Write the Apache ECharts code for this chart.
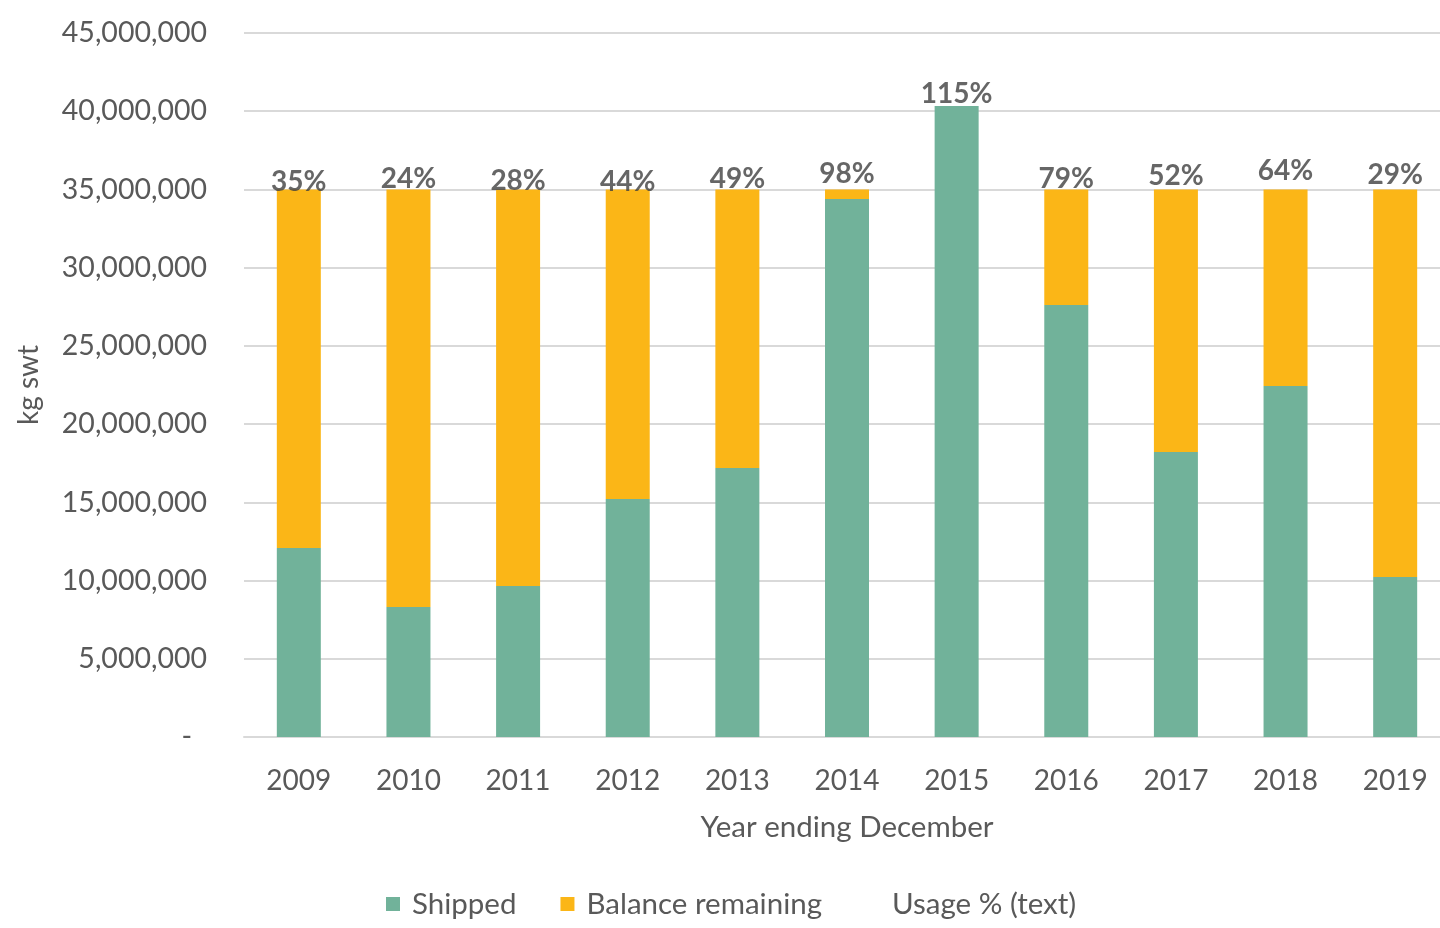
<!DOCTYPE html>
<html>
<head>
<meta charset="utf-8">
<script src="https://cdn.jsdelivr.net/npm/echarts@6/dist/echarts.min.js"></script>
<style>
html,body{margin:0;padding:0;background:#fff;overflow:hidden;}
#chart{width:1452px;height:928px;}
</style>
</head>
<body>
<div id="chart"></div>
<script>
const years = ['2009','2010','2011','2012','2013','2014','2015','2016','2017','2018','2019'];
const shipped = [12080000, 8310000, 9650000, 15210000, 17200000, 34390000, 40330000, 27610000, 18220000, 22440000, 10230000];
const balance = [22920000, 26690000, 25350000, 19790000, 17800000, 610000, -100000, 7390000, 16780000, 12560000, 24770000];
const usageLabels = ['35%','24%','28%','44%','49%','98%','115%','79%','52%','64%','29%'];
const usageY = [34790000, 34970000, 34840000, 34790000, 35030000, 35350000, 40400000, 34970000, 35160000, 35480000, 35280000];
const yTicks = { min: 0, max: 45000000, interval: 5000000 };

const FONT = 'Lato, "Open Sans", sans-serif';
const chart = echarts.init(document.getElementById('chart'));
chart.setOption({
  animation: false,
  textStyle: { fontFamily: FONT },
  grid: { left: 244, top: 33, width: 1206, height: 704, containLabel: false },
  legend: {
    left: 386, top: 889, padding: 0,
    itemWidth: 14, itemHeight: 14, itemGap: 44,
    textStyle: { fontFamily: FONT, fontSize: 29.5, color: '#595959', padding: [0, 0, 0, 7] },
    data: [
      { name: 'Shipped', icon: 'rect' },
      { name: 'Balance remaining', icon: 'rect' },
      { name: 'Usage % (text)', icon: 'rect', itemStyle: { color: 'rgba(0,0,0,0)', opacity: 0 } }
    ]
  },
  xAxis: {
    type: 'category',
    data: years,
    name: 'Year ending December',
    nameLocation: 'middle',
    nameGap: 75,
    nameTextStyle: { fontFamily: FONT, fontSize: 29.5, color: '#595959' },
    axisLine: { lineStyle: { color: '#d9d9d9', width: 2 } },
    axisTick: { show: false },
    axisLabel: { fontFamily: FONT, fontSize: 28, color: '#595959', margin: 30 }
  },
  yAxis: {
    type: 'value',
    min: yTicks.min, max: yTicks.max, interval: yTicks.interval,
    name: 'kg swt',
    nameLocation: 'middle',
    nameGap: 201,
    nameTextStyle: { fontFamily: FONT, fontSize: 28, color: '#595959' },
    axisLine: { show: false },
    axisTick: { show: false },
    splitLine: { lineStyle: { color: '#d9d9d9', width: 2 } },
    axisLabel: {
      fontFamily: FONT, fontSize: 28.5, color: '#595959', margin: 37,
      formatter: v => v === 0 ? '{z|-}' : v.toLocaleString('en-US'),
      rich: { z: { fontFamily: FONT, fontSize: 28.5, color: '#595959', padding: [0, 15, 0, 0] } }
    }
  },
  series: [
    {
      name: 'Shipped', type: 'bar', stack: 'total', barWidth: 44,
      itemStyle: { color: '#71b29a' },
      data: shipped
    },
    {
      name: 'Balance remaining', type: 'bar', stack: 'total', barWidth: 44,
      itemStyle: { color: '#fbb617' },
      data: balance
    },
    {
      name: 'Usage % (text)', type: 'scatter',
      symbol: 'rect', symbolSize: 1,
      itemStyle: { color: 'rgba(0,0,0,0)' },
      data: usageY,
      z: 5,
      label: {
        show: true, position: 'top', distance: -4,
        fontFamily: FONT, fontSize: 28, fontWeight: 'bold', color: '#404040',
        formatter: p => usageLabels[p.dataIndex]
      }
    }
  ]
});
</script>
</body>
</html>
